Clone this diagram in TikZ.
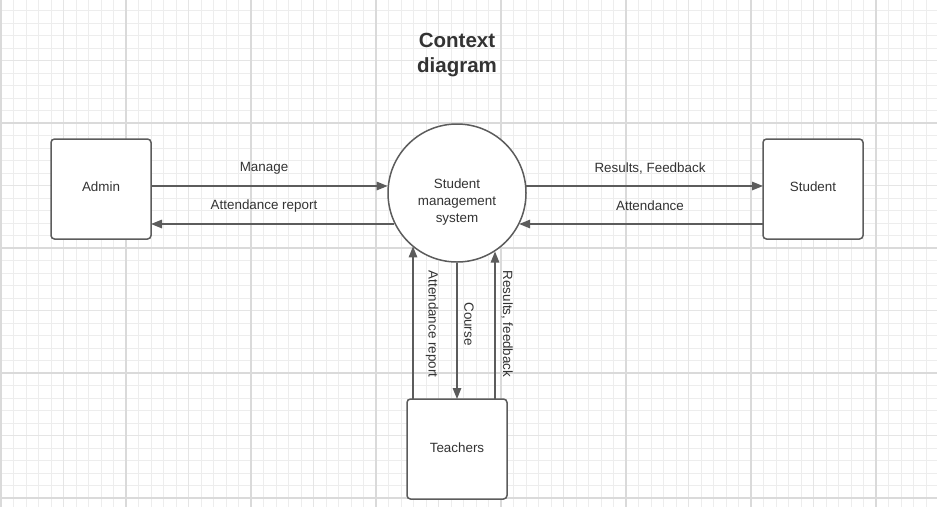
\documentclass[tikz,border=0pt]{standalone}
\usepackage{fontspec}
\setmainfont{Liberation Sans}
\usetikzlibrary{arrows.meta}
\definecolor{edgecol}{HTML}{5C5C5C}
\definecolor{txtcol}{HTML}{333333}
\definecolor{gminorcol}{HTML}{EDEDED}
\definecolor{gmidcol}{HTML}{E5E5E5}
\definecolor{gmajorcol}{HTML}{DADADA}
\tikzset{
  gminor/.style={draw=gminorcol,line width=1pt},
  gmid/.style={draw=gmidcol,line width=1.2pt},
  gmajor/.style={draw=gmajorcol,line width=1.5pt},
  entity/.style={draw=edgecol,line width=1.5pt,rounded corners=3.5pt,fill=white,
    minimum width=100pt,minimum height=100pt,inner sep=0pt},
  process/.style={draw=edgecol,line width=1.5pt,circle,fill=white,minimum size=138pt,
    inner sep=0pt},
  flow/.style={draw=edgecol,line width=1.4pt,-{Triangle[length=11pt,width=8.5pt]}},
  lbl/.style={text=txtcol,font=\fontsize{13.4}{17}\selectfont,inner sep=0pt,align=center},
  titletext/.style={text=txtcol,font=\fontsize{20.5}{25}\selectfont\bfseries,align=center}
}
\begin{document}
\begin{tikzpicture}[x=1pt,y=-1pt]
\fill[white] (0,0) rectangle (937,507);
\useasboundingbox (0,0) rectangle (937,507);
% grid
\foreach \i in {0,...,75} {\draw[gminor] ({1+12.5*\i},0) -- ({1+12.5*\i},507);}
\foreach \i in {0,...,41} {\draw[gminor] (0,{10.5+12.5*\i}) -- (937,{10.5+12.5*\i});}
\foreach \i in {0,...,15} {\draw[gmid] ({1+62.5*\i},0) -- ({1+62.5*\i},507);}
\foreach \i in {0,...,8} {\draw[gmid] (0,{-2+62.5*\i}) -- (937,{-2+62.5*\i});}
\foreach \i in {0,...,7} {\draw[gmajor] ({1+125*\i},0) -- ({1+125*\i},507);}
\foreach \i in {1,...,4} {\draw[gmajor] (0,{-2+125*\i}) -- (937,{-2+125*\i});}
% title
\node[titletext] (title) at (457,55) {Context\\diagram};
% nodes
\node[entity] (admin) at (101,189) {};
\node[entity] (student) at (813,189) {};
\node[entity] (teachers) at (457,449) {};
\node[process] (sms) at (457,193) {};
\node[lbl] (admintext) at (101,187) {Admin};
\node[lbl] (studenttext) at (813,187) {Student};
\node[lbl] (teacherstext) at (457,448) {Teachers};
\node[lbl] (smstext) at (457,202) {Student\\management\\system};
% connectors
\coordinate (a1) at (151,186);
\coordinate (a2) at (151,224);
\coordinate (s1) at (763,186);
\coordinate (s2) at (763,224);
\coordinate (t1) at (413,399);
\coordinate (t2) at (457,399);
\coordinate (t3) at (495,399);
\draw[flow] (a1) -- (a1 -| sms.174.2);
\draw[flow] (a2 -| sms.206.7) -- (a2);
\draw[flow] (s1 -| sms.5.8) -- (s1);
\draw[flow] (s2) -- (s2 -| sms.333.3);
\draw[flow] (t1) -- (t1 |- sms.230.4);
\draw[flow] (sms.270) -- (t2);
\draw[flow] (t3) -- (t3 |- sms.303.4);
% labels
\node[lbl] (l1) at (264,168) {Manage};
\node[lbl] (l2) at (264,206) {Attendance report};
\node[lbl] (l3) at (650,168) {Results, Feedback};
\node[lbl] (l4) at (650,206) {Attendance};
\node[lbl,rotate=-90] (l5) at (432,324) {Attendance report};
\node[lbl,rotate=-90] (l6) at (469,324) {Course};
\node[lbl,rotate=-90] (l7) at (507,324) {Results, feedback};
\end{tikzpicture}
\end{document}
